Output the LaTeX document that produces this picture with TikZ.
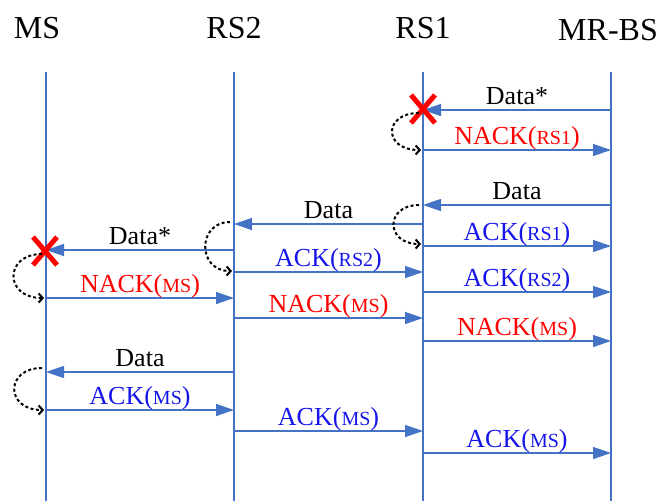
\documentclass[tikz,border=0pt]{standalone}
\usepackage{fontspec}
\setmainfont{Liberation Serif}
\usetikzlibrary{arrows.meta,shapes.misc}

\definecolor{lineblue}{RGB}{68,114,196}
\definecolor{txtblue}{RGB}{20,20,235}
\newcommand{\stn}[1]{{\fontsize{20}{20}\selectfont #1}}

\begin{document}
\begin{tikzpicture}[x=1pt, y=-1pt,
            every node/.style={font=\fontsize{26}{28}\selectfont, inner sep=0pt},
            title/.style={font=\fontsize{32}{34}\selectfont, anchor=base},
            life/.style={draw=lineblue, line width=1.6pt},
            msg/.style={draw=lineblue, line width=1.3pt, -{Triangle[length=18pt,width=12pt]}},
            lbl/.style={anchor=base, yshift=5.5pt},
            ack/.style={lbl, text=txtblue},
            nack/.style={lbl, text=red},
            retry/.style={draw=black, line width=2pt, dash pattern=on 3pt off 2.5pt,
              shorten <=4pt, shorten >=2pt, -{Straight Barb[length=4pt,width=9pt]}},
            lost/.style={cross out, draw=red, line width=5pt, minimum width=19pt, minimum height=23pt}
            ]
            \useasboundingbox (0,0) rectangle (660,501);
            % Stations
            \node[title] (msT) at (37,38) {MS};
            \node[title] (rs2T) at (234,38) {RS2};
            \node[title] (rs1T) at (423,38) {RS1};
            \node[title] (bsT) at (608,40) {MR-BS};
            % Lifelines
            \coordinate (ms) at (46,72);   \coordinate (msE) at (46,501);
            \coordinate (rs2) at (234,72); \coordinate (rs2E) at (234,501);
            \coordinate (rs1) at (423,72); \coordinate (rs1E) at (423,501);
            \coordinate (bs) at (611,72);  \coordinate (bsE) at (611,501);
            \draw[life] (ms) -- (msE);
            \draw[life] (rs2) -- (rs2E);
            \draw[life] (rs1) -- (rs1E);
            \draw[life] (bs) -- (bsE);
            % Downlink, lost at RS1
            \draw[msg] (bs |- 0,110) -- node[midway, lbl] {Data*} (rs1 |- 0,110);
            \draw[msg] (rs1 |- 0,150) -- node[midway, nack] {NACK(\stn{RS1})} (bs |- 0,150);
            \node[lost] (x1) at (423,109) {};
            \draw[retry] (rs1 |- 0,113) to[out=180, in=180, distance=40pt] (rs1 |- 0,150);
            % Retransmission, lost at MS
            \draw[msg] (bs |- 0,205) -- node[midway, lbl] {Data} (rs1 |- 0,205);
            \draw[msg] (rs1 |- 0,224) -- node[midway, lbl] {Data} (rs2 |- 0,224);
            \draw[msg] (rs1 |- 0,246) -- node[midway, ack] {ACK(\stn{RS1})} (bs |- 0,246);
            \draw[retry] (rs1 |- 0,205) to[out=180, in=180, distance=38pt] (rs1 |- 0,244);
            \draw[msg] (rs2 |- 0,250) -- node[midway, lbl] {Data*} (ms |- 0,250);
            \draw[msg] (rs2 |- 0,272) -- node[midway, ack] {ACK(\stn{RS2})} (rs1 |- 0,272);
            \draw[retry] (rs2 |- 0,222) to[out=180, in=180, distance=37pt] (rs2 |- 0,271);
            \draw[msg] (rs1 |- 0,292) -- node[midway, ack] {ACK(\stn{RS2})} (bs |- 0,292);
            \node[lost] (x2) at (45,251) {};
            \draw[retry] (ms |- 0,254) to[out=180, in=180, distance=42pt] (ms |- 0,298);
            \draw[msg] (ms |- 0,298) -- node[midway, nack] {NACK(\stn{MS})} (rs2 |- 0,298);
            \draw[msg] (rs2 |- 0,318) -- node[midway, nack] {NACK(\stn{MS})} (rs1 |- 0,318);
            \draw[msg] (rs1 |- 0,341) -- node[midway, nack] {NACK(\stn{MS})} (bs |- 0,341);
            % Local retransmission from RS2
            \draw[msg] (rs2 |- 0,372) -- node[midway, lbl] {Data} (ms |- 0,372);
            \draw[retry] (ms |- 0,368) to[out=180, in=180, distance=41pt] (ms |- 0,410);
            \draw[msg] (ms |- 0,410) -- node[midway, ack] {ACK(\stn{MS})} (rs2 |- 0,410);
            \draw[msg] (rs2 |- 0,431) -- node[midway, ack] {ACK(\stn{MS})} (rs1 |- 0,431);
            \draw[msg] (rs1 |- 0,453) -- node[midway, ack] {ACK(\stn{MS})} (bs |- 0,453);
\end{tikzpicture}
\end{document}
